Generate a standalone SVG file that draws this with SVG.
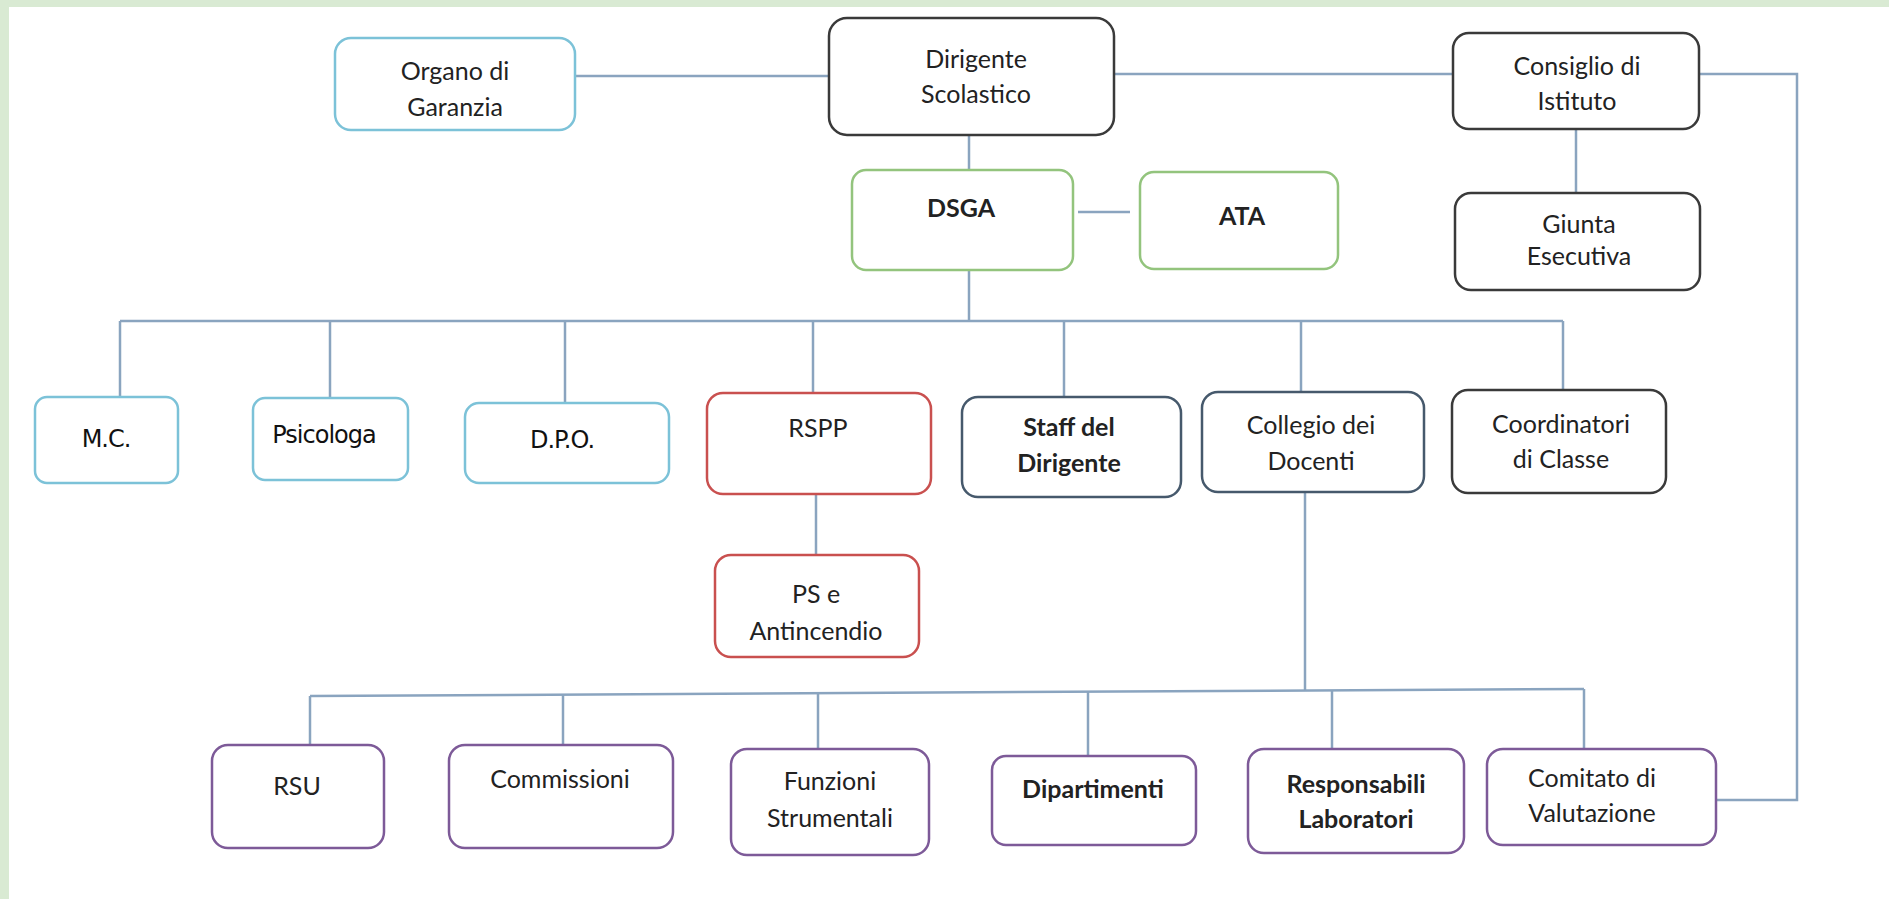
<svg xmlns="http://www.w3.org/2000/svg" width="1889" height="899" viewBox="0 0 1889 899">
<style>
.n rect{fill:#fff;stroke-width:2.5}
.t{font-family:Lato,"Liberation Sans",sans-serif;font-size:25px;fill:#222;text-anchor:middle}
.g{font-family:"DejaVu Sans","Liberation Sans",sans-serif;font-size:24px;fill:#111;text-anchor:middle;letter-spacing:-1px}
.b{font-weight:bold}
.blue rect{stroke:#7cc2d8}
.dark rect{stroke:#3a3a3a}
.green rect{stroke:#93c47d}
.red rect{stroke:#c9504f}
.slate rect{stroke:#46596c}
.purple rect{stroke:#7d5a98}
#connectors path{fill:none;stroke:#8aa4bf;stroke-width:2.5}
</style>
<rect x="0" y="0" width="1889" height="899" fill="#fff"/>
<rect x="0" y="0" width="1889" height="7" fill="#d9ead3"/>
<rect x="0" y="0" width="9" height="899" fill="#d9ead3"/>
<g id="connectors">
<path d="M575,76 H829"/>
<path d="M1114,74 H1453"/>
<path d="M1699,74 H1797 V800 H1716"/>
<path d="M1576,129 V193"/>
<path d="M969,135 V170"/>
<path d="M1078,212 H1130"/>
<path d="M969,270 V321"/>
<path d="M120,321 H1563"/>
<path d="M120,321 V397"/>
<path d="M330,321 V398"/>
<path d="M565,321 V403"/>
<path d="M813,321 V393"/>
<path d="M1064,321 V397"/>
<path d="M1301,321 V392"/>
<path d="M1563,321 V390"/>
<path d="M816,494 V555"/>
<path d="M1305,492 V691"/>
<path d="M310,696 L1584,689"/>
<path d="M310,696 V745"/>
<path d="M563,695 V745"/>
<path d="M818,694 V749"/>
<path d="M1088,692 V756"/>
<path d="M1332,691 V749"/>
<path d="M1584,689 V749"/>
</g>
<g id="organo" class="n blue"><rect x="335" y="38" width="240" height="92" rx="16"/><text class="t" x="455" y="80">Organo di</text><text class="t" x="455" y="116">Garanzia</text></g>
<g id="dirigente" class="n dark"><rect x="829" y="18" width="285" height="117" rx="18"/><text class="t" x="976" y="68">Dirigente</text><text class="t" x="976" y="103">Scolastico</text></g>
<g id="consiglio" class="n dark"><rect x="1453" y="33" width="246" height="96" rx="16"/><text class="t" x="1577" y="75">Consiglio di</text><text class="t" x="1577" y="110">Istituto</text></g>
<g id="giunta" class="n dark"><rect x="1455" y="193" width="245" height="97" rx="16"/><text class="t" x="1579" y="233">Giunta</text><text class="t" x="1579" y="265">Esecutiva</text></g>
<g id="dsga" class="n green"><rect x="852" y="170" width="221" height="100" rx="14"/><text class="t b" x="961" y="217">DSGA</text></g>
<g id="ata" class="n green"><rect x="1140" y="172" width="198" height="97" rx="14"/><text class="t b" x="1242" y="225">ATA</text></g>
<g id="mc" class="n blue"><rect x="35" y="397" width="143" height="86" rx="12"/><text class="g" x="106" y="447">M.C.</text></g>
<g id="psicologa" class="n blue"><rect x="253" y="398" width="155" height="82" rx="12"/><text class="g" x="324" y="443">Psicologa</text></g>
<g id="dpo" class="n blue"><rect x="465" y="403" width="204" height="80" rx="14"/><text class="g" x="562" y="448">D.P.O.</text></g>
<g id="rspp" class="n red"><rect x="707" y="393" width="224" height="101" rx="16"/><text class="t" x="818" y="437">RSPP</text></g>
<g id="ps" class="n red"><rect x="715" y="555" width="204" height="102" rx="16"/><text class="t" x="816" y="603">PS e</text><text class="t" x="816" y="640">Antincendio</text></g>
<g id="staff" class="n slate"><rect x="962" y="397" width="219" height="100" rx="16"/><text class="t b" x="1069" y="436">Staff del</text><text class="t b" x="1069" y="472">Dirigente</text></g>
<g id="collegio" class="n slate"><rect x="1202" y="392" width="222" height="100" rx="16"/><text class="t" x="1311" y="434">Collegio dei</text><text class="t" x="1311" y="470">Docenti</text></g>
<g id="coordinatori" class="n dark"><rect x="1452" y="390" width="214" height="103" rx="16"/><text class="t" x="1561" y="433">Coordinatori</text><text class="t" x="1561" y="468">di Classe</text></g>
<g id="rsu" class="n purple"><rect x="212" y="745" width="172" height="103" rx="16"/><text class="t" x="297" y="795">RSU</text></g>
<g id="commissioni" class="n purple"><rect x="449" y="745" width="224" height="103" rx="16"/><text class="t" x="560" y="788">Commissioni</text></g>
<g id="funzioni" class="n purple"><rect x="731" y="749" width="198" height="106" rx="16"/><text class="t" x="830" y="790">Funzioni</text><text class="t" x="830" y="827">Strumentali</text></g>
<g id="dipartimenti" class="n purple"><rect x="992" y="756" width="204" height="89" rx="14"/><text class="t b" x="1093" y="798">Dipartimenti</text></g>
<g id="responsabili" class="n purple"><rect x="1248" y="749" width="216" height="104" rx="16"/><text class="t b" x="1356" y="793">Responsabili</text><text class="t b" x="1356" y="828">Laboratori</text></g>
<g id="comitato" class="n purple"><rect x="1487" y="749" width="229" height="96" rx="16"/><text class="t" x="1592" y="787">Comitato di</text><text class="t" x="1592" y="822">Valutazione</text></g>
</svg>
